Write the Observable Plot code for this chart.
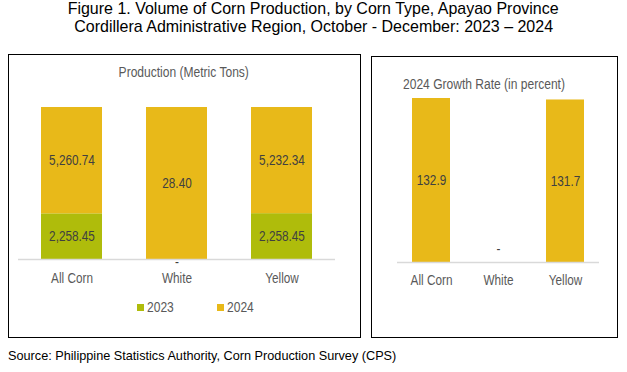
<!DOCTYPE html>
<html>
<head>
<meta charset="utf-8">
<script src="https://cdn.jsdelivr.net/npm/d3@7"></script>
<script src="https://cdn.jsdelivr.net/npm/@observablehq/plot@0.6"></script>
<style>
  html, body { margin: 0; padding: 0; background: #fff; }
  body { width: 627px; height: 372px; position: relative; overflow: hidden;
         font-family: "Liberation Sans", Arial, sans-serif; }
  .abs { position: absolute; }
  #title { left: 0; top: 0; width: 627px; text-align: center; font-size: 17px; line-height: 18px; color: #000; }
  #title span { display: inline-block; transform: scaleX(0.94); transform-origin: center; white-space: nowrap; }
  .panel { border: 1.5px solid #000; box-sizing: border-box; }
  #p1 { left: 8px; top: 54px; width: 353px; height: 284px; }
  #p2 { left: 371px; top: 56px; width: 247px; height: 282px; }
  #t1 { left: 84px; width: 200px; top: 64px; text-align: center; font-size: 14px; color: #595959; }
  #t1 span { display: inline-block; transform: scaleX(0.86); transform-origin: center; white-space: nowrap; }
  #t2 { left: 403px; top: 76px; font-size: 14px; color: #595959; white-space: nowrap; }
  #t2 span { display: inline-block; transform: scaleX(0.86); transform-origin: left center; }
  #c1 { left: 9px; top: 55px; }
  #c2 { left: 372px; top: 57px; }
  #lg { left: 137px; top: 299px; }
  .lg-swatches { font-family: "Liberation Sans", Arial, sans-serif !important; font-size: 14px !important; color: #595959 !important; min-height: 0 !important; margin: 0 !important; }
  .lg-swatch { margin-right: 39px !important; }
  .lg-swatch > svg { margin-right: 3px !important; }
  #src { left: 8px; top: 349px; font-family: "Liberation Sans", Arial, sans-serif; font-size: 12.7px; color: #000; white-space: nowrap; }
</style>
</head>
<body>
<div id="title" class="abs"><span>Figure 1. Volume of Corn Production, by Corn Type, Apayao Province</span><br><span>Cordillera Administrative Region, October - December: 2023 – 2024</span></div>
<div id="p1" class="abs panel"></div>
<div id="p2" class="abs panel"></div>
<div id="t1" class="abs"><span>Production (Metric Tons)</span></div>
<div id="t2" class="abs"><span>2024 Growth Rate (in percent)</span></div>
<div id="c1" class="abs"></div>
<div id="c2" class="abs"></div>
<div id="lg" class="abs"></div>
<div id="src" class="abs">Source: Philippine Statistics Authority, Corn Production Survey (CPS)</div>
<script>
const cornTypes = ["All Corn", "White", "Yellow"];
const years = ["2023", "2024"];
const prod2023 = [2258.45, 0, 2258.45];
const prod2024 = [5260.74, 28.40, 5232.34];
const growth2024 = [132.9, null, 131.7];
const yearColors = ["#AFBC0B", "#E8B919"];

const font = '"Liberation Sans", Arial, sans-serif';
const prodData = [];
cornTypes.forEach((t, i) => {
  prodData.push({type: t, year: "2023", value: prod2023[i]});
  prodData.push({type: t, year: "2024", value: prod2024[i]});
});
const growthData = cornTypes.map((t, i) => ({type: t, value: growth2024[i]}));
const fmt = d3.format(",.2f");

function condense(root, f) {
  root.querySelectorAll("text").forEach(t => {
    const L = t.getComputedTextLength();
    if (L > 0) {
      t.setAttribute("textLength", L * f);
      t.setAttribute("lengthAdjust", "spacingAndGlyphs");
    }
  });
}

const chart1 = Plot.plot({
  width: 350, height: 240,
  marginLeft: 9, marginRight: 24, marginTop: 52, marginBottom: 36,
  style: {fontFamily: font, fontSize: "14px", background: "transparent"},
  x: {domain: cornTypes, paddingInner: 0.42, paddingOuter: 0.21, label: null, tickSize: 0, tickPadding: 14},
  y: {axis: null, domain: [0, 1]},
  color: {domain: years, range: yearColors},
  marks: [
    Plot.barY(prodData, Plot.stackY({offset: "normalize", x: "type", y: "value", fill: "year", order: years})),
    Plot.ruleY([0], {stroke: "#d9d9d9", strokeWidth: 1.5}),
    Plot.text(prodData, Plot.stackY({offset: "normalize", x: "type", y: "value", z: "year", order: years,
      text: d => d.value ? fmt(d.value) : "", fill: "#404040", fontSize: 14})),
    Plot.text(prodData.filter(d => !d.value), {x: "type", y: 0, text: () => "-", dy: 3, fill: "#404040", fontSize: 14})
  ]
});
document.getElementById("c1").appendChild(chart1);
chart1.querySelectorAll('g[aria-label="x-axis tick label"]').forEach(el => el.setAttribute("fill", "#595959"));
condense(chart1, 0.84);

const chart2 = Plot.plot({
  width: 244, height: 240,
  marginLeft: 25, marginRight: 17, marginTop: 41, marginBottom: 35,
  style: {fontFamily: font, fontSize: "14px", background: "transparent"},
  x: {domain: cornTypes, paddingInner: 0.435, paddingOuter: 0.22, label: null, tickSize: 0, tickPadding: 13},
  y: {axis: null, domain: [0, d3.max(growth2024)]},
  marks: [
    Plot.barY(growthData.filter(d => d.value != null), {x: "type", y: "value", fill: yearColors[1]}),
    Plot.ruleY([0], {stroke: "#d9d9d9", strokeWidth: 1.5}),
    Plot.text(growthData.filter(d => d.value != null), {x: "type", y: d => d.value / 2,
      text: d => d3.format(".1f")(d.value), fill: "#404040", fontSize: 14}),
    Plot.text(growthData.filter(d => d.value == null), {x: "type", y: 0, text: () => "-", dy: -13, fill: "#404040", fontSize: 14})
  ]
});
document.getElementById("c2").appendChild(chart2);
chart2.querySelectorAll('g[aria-label="x-axis tick label"]').forEach(el => el.setAttribute("fill", "#595959"));
condense(chart2, 0.84);

const legend = Plot.legend({color: {domain: years, range: yearColors}, swatchSize: 7, className: "lg"});
document.getElementById("lg").appendChild(legend);
legend.querySelectorAll(".lg-swatch").forEach(sw => {
  const node = sw.lastChild;
  if (node && node.nodeType === 3) {
    const s = document.createElement("span");
    s.textContent = node.textContent;
    s.style.display = "inline-block";
    s.style.transform = "scaleX(0.86)";
    s.style.transformOrigin = "left center";
    sw.replaceChild(s, node);
  }
});
</script>
</body>
</html>
